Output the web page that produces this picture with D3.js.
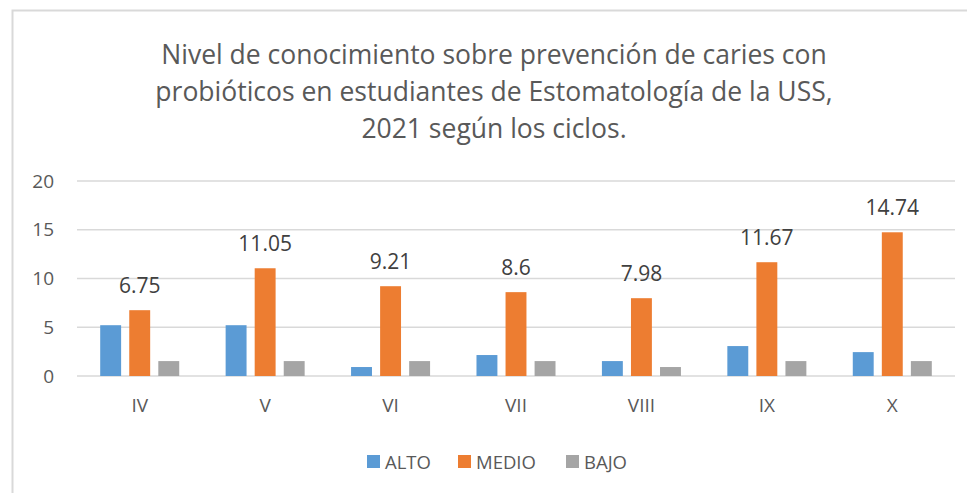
<!DOCTYPE html>
<html>
<head>
<meta charset="utf-8">
<script src="https://cdn.jsdelivr.net/npm/d3@7"></script>
<style>
  body { margin: 0; background: #fff; }
  text { font-family: "Open Sans", "Liberation Sans", sans-serif; }
</style>
</head>
<body>
<div id="chart"></div>
<script>
// Data
const ciclos = ['IV', 'V', 'VI', 'VII', 'VIII', 'IX', 'X']
const alto = [5.21, 5.21, 0.92, 2.15, 1.53, 3.07, 2.45]
const medio = [6.75, 11.05, 9.21, 8.6, 7.98, 11.67, 14.74]
const bajo = [1.53, 1.53, 1.53, 1.53, 0.92, 1.53, 1.53]
const seriesNames = ['ALTO', 'MEDIO', 'BAJO']
const yTicks = [0, 5, 10, 15, 20]
const titleLines = [
  'Nivel de conocimiento sobre prevención de caries con',
  'probióticos en estudiantes de Estomatología de la USS,',
  '2021 según los ciclos.'
]

const series = [alto, medio, bajo]
const dataset = ciclos.map((c, i) => {
  const d = { ciclo: c }
  seriesNames.forEach((s, j) => d[s] = series[j][i])
  return d
})

// Dimensions
const dimensions = {
  width: 967,
  height: 493,
  left: 77,
  right: 955,
  top: 181,
  bottom: 376,
}

const colors = d3.scaleOrdinal()
  .domain(seriesNames)
  .range(['#5B9BD5', '#ED7D31', '#A5A5A5'])

const svg = d3.select('#chart')
  .append('svg')
  .attr('width', dimensions.width)
  .attr('height', dimensions.height)

// Frame
svg.append('rect')
  .attr('x', 12.5)
  .attr('y', 10.5)
  .attr('width', 1000)
  .attr('height', 600)
  .attr('fill', 'none')
  .attr('stroke', '#D9D9D9')
  .attr('stroke-width', 2)

// Title
svg.append('text')
  .attr('x', 494)
  .attr('y', 64)
  .attr('text-anchor', 'middle')
  .attr('fill', '#595959')
  .style('font-size', '26.5px')
  .selectAll('tspan')
  .data(titleLines)
  .join('tspan')
  .attr('x', 494)
  .attr('dy', (d, i) => i === 0 ? 0 : 37)
  .text(d => d)

// Scales
const xScale = d3.scaleBand()
  .domain(ciclos)
  .range([dimensions.left, dimensions.right])
  .paddingInner(0.37)
  .paddingOuter(0.185)

const x1 = d3.scaleBand()
  .domain(seriesNames)
  .range([0, xScale.bandwidth()])
  .paddingInner(0.28)

const yScale = d3.scaleLinear()
  .domain([0, 20])
  .range([dimensions.bottom, dimensions.top])

// Gridlines
svg.append('g')
  .selectAll('line')
  .data(yTicks)
  .join('line')
  .attr('x1', dimensions.left)
  .attr('x2', dimensions.right)
  .attr('y1', d => yScale(d))
  .attr('y2', d => yScale(d))
  .attr('stroke', '#D9D9D9')
  .attr('stroke-width', 1.5)

// Axis
const yAxis = d3.axisLeft(yScale)
  .tickValues(yTicks)
  .tickSize(0)
  .tickPadding(0)

const yG = svg.append('g')
  .attr('transform', `translate(54, 0)`)
  .call(yAxis)
yG.select('.domain').remove()
yG.selectAll('text')
  .attr('fill', '#595959')
  .style('font-size', '19px')

const xAxis = d3.axisBottom(xScale)
  .tickSize(0)
  .tickPadding(0)

const xG = svg.append('g')
  .attr('transform', `translate(0, 398)`)
  .call(xAxis)
xG.select('.domain').remove()
xG.selectAll('text')
  .attr('fill', '#595959')
  .style('font-size', '19px')

// Bars
const groups = svg.append('g')
  .selectAll('g')
  .data(dataset)
  .join('g')
  .attr('transform', d => `translate(${xScale(d.ciclo)}, 0)`)

groups.selectAll('rect')
  .data(d => seriesNames.map(s => ({ key: s, value: d[s] })))
  .join('rect')
  .attr('x', d => x1(d.key))
  .attr('y', d => yScale(d.value))
  .attr('width', x1.bandwidth())
  .attr('height', d => yScale(0) - yScale(d.value))
  .attr('fill', d => colors(d.key))

// Data labels (MEDIO only)
groups.append('text')
  .attr('x', x1('MEDIO') + x1.bandwidth() / 2)
  .attr('y', d => yScale(d.MEDIO) - 17)
  .attr('text-anchor', 'middle')
  .attr('fill', '#404040')
  .style('font-size', '21px')
  .text(d => d.MEDIO)

// Legend
const legendX = [367, 458, 566]
const legend = svg.append('g')
  .selectAll('g')
  .data(seriesNames)
  .join('g')
  .attr('transform', (d, i) => `translate(${legendX[i]}, 455)`)

legend.append('rect')
  .attr('width', 13)
  .attr('height', 13)
  .attr('fill', d => colors(d))

legend.append('text')
  .attr('x', 18)
  .attr('y', 14)
  .attr('fill', '#595959')
  .style('font-size', '18.5px')
  .text(d => d)
</script>
</body>
</html>
